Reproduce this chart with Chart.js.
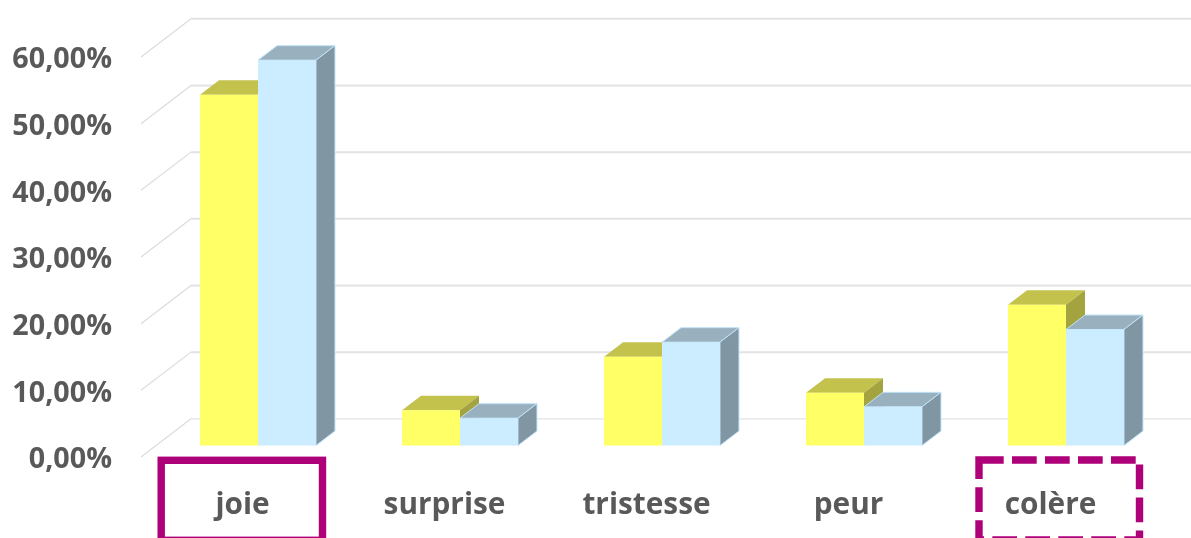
<!DOCTYPE html>
<html lang="fr">
<head>
<meta charset="utf-8">
<title>Emotions</title>
<script src="https://cdn.jsdelivr.net/npm/chart.js@4"></script>
<style>
  html, body { margin: 0; padding: 0; background: #fff; overflow: hidden; }
  canvas { display: block; }
</style>
</head>
<body>
<canvas id="emotionChart" width="1191" height="538"></canvas>
<script>
const categories = ['joie', 'surprise', 'tristesse', 'peur', 'colère'];
const yellowValues = [52.6, 5.3, 13.3, 7.9, 21.1];
const blueValues = [57.8, 4.1, 15.5, 5.8, 17.4];

// 3D look: faces are drawn around the bars that Chart.js lays out
const barDepth = { x: 19, y: -14.5 };
const wallFront = { x: 141, y: 11.5 };
const wallBack = { x: 191, y: -26.7 };
const faceColors = [
  { top: '#C2C24D', side: '#A3A33F', edge: null },
  { top: '#99B0BF', side: '#8196A3', edge: '#BFE4FA' }
];

function drawFace(ctx, points, fill, edge) {
  ctx.beginPath();
  points.forEach((p, i) => i ? ctx.lineTo(p[0], p[1]) : ctx.moveTo(p[0], p[1]));
  ctx.closePath();
  ctx.fillStyle = fill;
  ctx.fill();
  if (edge) {
    ctx.strokeStyle = edge;
    ctx.lineWidth = 1;
    ctx.stroke();
  }
}

const box3d = {
  id: 'box3d',
  beforeDatasetsDraw(chart) {
    const { ctx, scales } = chart;
    ctx.save();
    scales.y.ticks.forEach(tick => {
      const y = scales.y.getPixelForValue(tick.value);
      ctx.strokeStyle = '#DCDCDC';
      ctx.lineWidth = 1.2;
      ctx.beginPath();
      ctx.moveTo(wallFront.x, y + wallFront.y);
      ctx.lineTo(wallBack.x, y + wallBack.y);
      ctx.stroke();
      ctx.strokeStyle = '#E3E3E3';
      ctx.lineWidth = tick.value === 0 ? 1.2 : 2;
      ctx.beginPath();
      ctx.moveTo(wallBack.x, y + wallBack.y);
      ctx.lineTo(chart.width, y + wallBack.y);
      ctx.stroke();
    });
    // left series first so the right one sits in front of it
    chart.getSortedVisibleDatasetMetas().forEach(meta => {
      const colors = faceColors[meta.index];
      meta.data.forEach(bar => {
        const left = bar.x - bar.width / 2;
        const right = bar.x + bar.width / 2;
        const dx = barDepth.x, dy = barDepth.y;
        drawFace(ctx, [[left, bar.y], [right, bar.y], [right + dx, bar.y + dy], [left + dx, bar.y + dy]], colors.top, colors.edge);
        drawFace(ctx, [[right, bar.y], [right + dx, bar.y + dy], [right + dx, bar.base + dy], [right, bar.base]], colors.side, colors.edge);
      });
      meta.controller.draw();
    });
    ctx.restore();
    return false;
  },
  afterDraw(chart) {
    const { ctx, scales } = chart;
    const first = scales.x.getPixelForValue(0);
    const last = scales.x.getPixelForValue(categories.length - 1);
    ctx.save();
    ctx.strokeStyle = '#AE0078';
    ctx.lineWidth = 7.4;
    ctx.strokeRect(first - 96.8, 460.3, 161.3, 80);
    ctx.setLineDash([24.7, 8.3]);
    ctx.strokeRect(last - 87, 460, 160.5, 80);
    ctx.restore();
  }
};

new Chart(document.getElementById('emotionChart').getContext('2d'), {
  type: 'bar',
  data: {
    labels: categories,
    datasets: [
      { label: 'série 1', data: yellowValues, backgroundColor: '#FFFF66' },
      { label: 'série 2', data: blueValues, backgroundColor: '#CCECFF' }
    ]
  },
  plugins: [box3d],
  options: {
    responsive: false,
    animation: false,
    layout: { padding: { top: 45.5, right: 24, left: 0, bottom: 0 } },
    plugins: { legend: { display: false }, tooltip: { enabled: false } },
    datasets: { bar: { categoryPercentage: 0.574, barPercentage: 1 } },
    scales: {
      x: {
        grid: { display: false },
        border: { display: false },
        afterFit(scale) { scale.height = 92.5; scale.paddingLeft = 0; scale.paddingRight = 0; },
        ticks: { font: { family: '"Open Sans"', size: 29.8, weight: '700' }, color: '#595959', padding: 34, labelOffset: -15.5, maxRotation: 0, autoSkip: false }
      },
      y: {
        min: 0,
        max: 60,
        grid: { display: false, drawTicks: false },
        border: { display: false },
        afterFit(scale) { scale.width = 157; scale.paddingTop = 0; scale.paddingBottom = 0; },
        ticks: {
          stepSize: 10,
          font: { family: '"Open Sans"', size: 28.7, weight: '700' },
          color: '#595959',
          padding: 45,
          labelOffset: 14.5,
          callback: v => v.toFixed(2).replace('.', ',') + '%'
        }
      }
    }
  }
});
</script>
</body>
</html>
